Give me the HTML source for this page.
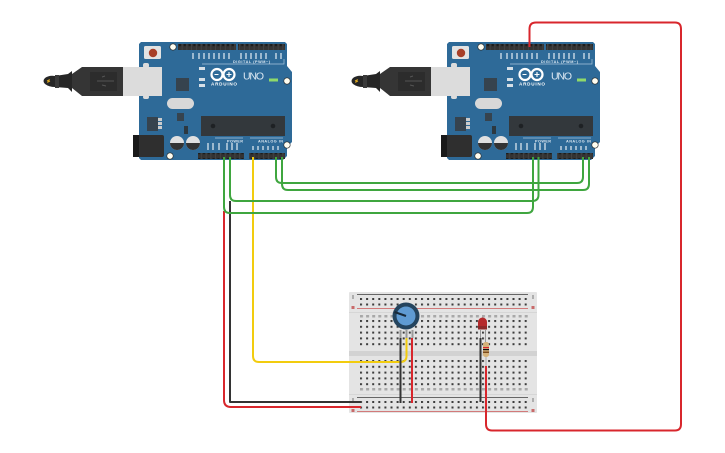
<!DOCTYPE html>
<html><head><meta charset="utf-8"><style>
html,body{margin:0;padding:0;background:#fff}
svg{display:block}
text{font-family:"Liberation Sans",sans-serif}
</style></head><body>
<svg width="725" height="453" viewBox="0 0 725 453" xmlns="http://www.w3.org/2000/svg">
<defs>
<pattern id="hdr" x="0" y="0" width="4.8" height="6" patternUnits="userSpaceOnUse"><rect width="4.8" height="6" fill="#333"/><rect x="1.3" y="2" width="2.2" height="2.2" fill="#1c1c1c"/><rect x="4.2" width=".6" height="6" fill="#4a4a4a"/></pattern>
<pattern id="railA" x="360" y="298" width="6.1" height="5.5" patternUnits="userSpaceOnUse"><rect x="0" y="0" width="2" height="2" fill="#3c3c3c"/></pattern>
<pattern id="railB" x="360" y="401" width="6.1" height="5.5" patternUnits="userSpaceOnUse"><rect x="0" y="0" width="2" height="2" fill="#3c3c3c"/></pattern>
<pattern id="mainA" x="360" y="320" width="6.1" height="5.8" patternUnits="userSpaceOnUse"><rect x="0" y="0" width="2" height="2" fill="#3c3c3c"/></pattern>
<pattern id="mainB" x="360" y="360" width="6.1" height="5.8" patternUnits="userSpaceOnUse"><rect x="0" y="0" width="2" height="2" fill="#3c3c3c"/></pattern>
<pattern id="labA" x="360" y="315" width="6.1" height="6" patternUnits="userSpaceOnUse"><rect x="0" y="0" width="3" height="2.500" fill="#a8a8a8"/></pattern>
<pattern id="labB" x="360" y="388" width="6.1" height="6" patternUnits="userSpaceOnUse"><rect x="0" y="0" width="3" height="2.500" fill="#a8a8a8"/></pattern>
<g id="board">
<!-- cable -->
<path d="M45 78 Q49 75 55 76 L68 74 L72 71 L72 92 L68 88 L55 87 Q49 87 45 84 Q42 81 45 78Z" fill="#262626"/>
<rect x="55" y="75" width="4" height="13" fill="#3a3a3a"/>
<path d="M72 74 L82 67 L123 67 L123 96 L82 96 L72 88Z" fill="#353535"/>
<rect x="90" y="72" width="27" height="19" fill="#2c2c2c"/>
<path d="M97 81h17M102 77l3-1M102 85l4 1" stroke="#555" fill="none"/>
<path d="M47 81l2-1-1 2 2-1" stroke="#d9a520" fill="none" stroke-width="1"/>
<!-- pcb -->
<path d="M141 42 L285 42 L287 44 L287 66 L292 72 L292 142 L287 147 L287 156 L283 160 L141 160 L139 158 L139 44Z" fill="#2e6a98"/>
<rect x="123" y="67" width="39" height="29" fill="#dcdcdc"/>
<rect x="143" y="63" width="6" height="5" rx="2" fill="#dcdcdc"/><rect x="143" y="95" width="6" height="4" rx="2" fill="#dcdcdc"/>
<rect x="144" y="46" width="17" height="13" rx="1.5" fill="#e3e3e3"/>
<circle cx="153" cy="53" r="4.2" fill="#a83f28"/>
<rect x="178" y="44" width="58" height="6" fill="url(#hdr)"/>
<rect x="238" y="44" width="47" height="6" fill="url(#hdr)"/>
<rect x="198" y="153" width="46" height="6" fill="url(#hdr)"/>
<rect x="249" y="153" width="36" height="6" fill="url(#hdr)"/>
<circle cx="173" cy="47" r="3.2" fill="#fffdf0" stroke="#222" stroke-width=".6"/>
<circle cx="287" cy="81" r="3.2" fill="#fffdf0" stroke="#222" stroke-width=".6"/>
<circle cx="287" cy="145" r="3.2" fill="#fffdf0" stroke="#222" stroke-width=".6"/>
<circle cx="170" cy="156" r="3.2" fill="#fffdf0" stroke="#222" stroke-width=".6"/>
<rect x="176" y="78" width="13" height="13" fill="#36434e"/>
<rect x="167" y="98" width="27" height="11" rx="5.500" fill="#d8d8d8"/>
<rect x="177" y="113" width="7" height="8" fill="#36434e"/>
<rect x="147" y="117" width="11" height="14" fill="#36434e"/>
<rect x="158" y="118" width="4" height="3" fill="#ccc"/><rect x="158" y="122" width="4" height="3" fill="#ccc"/><rect x="158" y="126" width="4" height="3" fill="#ccc"/>
<rect x="184" y="126" width="4" height="8" fill="#2c3840"/>
<rect x="201" y="116" width="84" height="20" fill="#33383c"/>
<circle cx="213" cy="126" r="2.3" fill="#1e2124"/><circle cx="273" cy="126" r="2.3" fill="#1e2124"/>
<circle cx="177" cy="143" r="7" fill="#e0e0e0"/><path d="M170 143 A7 7 0 0 0 184 143Z" fill="#333"/>
<circle cx="193" cy="143" r="7" fill="#e0e0e0"/><path d="M186 143 A7 7 0 0 0 200 143Z" fill="#333"/>
<rect x="133" y="135" width="31" height="22" rx="2" fill="#2f2f2f"/><rect x="133" y="135" width="6" height="22" fill="#1a1a1a"/>
<g fill="#e6eef4" opacity=".6"><rect x="192" y="53" width="2" height="6"/><rect x="198" y="53" width="2" height="6"/><rect x="203" y="53" width="2" height="6"/><rect x="208" y="53" width="2" height="6"/><rect x="213" y="53" width="2" height="6"/><rect x="218" y="53" width="2" height="6"/><rect x="223" y="53" width="2" height="6"/><rect x="228" y="53" width="2" height="6"/><rect x="240" y="53" width="2" height="6"/><rect x="245" y="53" width="2" height="6"/><rect x="250" y="53" width="2" height="6"/><rect x="255" y="53" width="2" height="6"/><rect x="260" y="53" width="2" height="6"/><rect x="265" y="53" width="2" height="6"/><rect x="275" y="53" width="2" height="6"/><rect x="280" y="53" width="2" height="6"/>
<rect x="207" y="143" width="2" height="7"/><rect x="212" y="143" width="2" height="7"/><rect x="218" y="143" width="2" height="7"/><rect x="226" y="143" width="2" height="7"/><rect x="231" y="143" width="2" height="7"/><rect x="236" y="143" width="2" height="7"/>
<rect x="252" y="146" width="2" height="4"/><rect x="257" y="146" width="2" height="4"/><rect x="262" y="146" width="2" height="4"/><rect x="267" y="146" width="2" height="4"/><rect x="272" y="146" width="2" height="4"/><rect x="277" y="146" width="2" height="4"/></g>
<g fill="#d5dfe7"><rect x="199" y="67" width="6" height="3"/><rect x="199" y="78" width="6" height="3"/><rect x="199" y="84" width="6" height="3"/></g>
<path d="M202 64H284V59M215 138H243M250 138H283" stroke="#a9c6dc" stroke-width=".7" fill="none"/>
<g fill="none" stroke="#fff" stroke-width="2.2"><circle cx="217" cy="74.500" r="5.500"/><circle cx="229" cy="74.500" r="5.500"/></g>
<path d="M214.500 74.500h4M226.500 74.500h5M229 72v5" stroke="#fff" stroke-width="1.100"/>
<text x="211" y="85.500" font-size="4.600" font-weight="700" fill="#fff" textLength="26">ARDUINO</text>
<text x="243" y="79.500" font-size="10.500" fill="#dce8f2" textLength="21">UNO</text>
<text x="233" y="63" font-size="3.800" font-weight="700" fill="#dce8f2" textLength="37">DIGITAL (PWM~)</text>
<text x="227" y="142.500" font-size="3.800" font-weight="700" fill="#dce8f2" textLength="16">POWER</text>
<text x="258" y="142.500" font-size="3.800" font-weight="700" fill="#dce8f2" textLength="25">ANALOG IN</text>
<rect x="269" y="78.500" width="9" height="3" fill="#8fd96a"/>
</g>
</defs>
<use href="#board"/>
<use href="#board" x="308"/>
<!-- breadboard -->
<rect x="349" y="292" width="188" height="121" rx="1" fill="#e4e4e4"/>
<rect x="349" y="312" width="188" height="1" fill="#d6d6d6"/><rect x="349" y="394" width="188" height="1" fill="#d6d6d6"/>
<rect x="349" y="351" width="188" height="5" fill="#d2d2d2"/>
<path d="M357 294.500H528" stroke="#666" stroke-width="1"/>
<path d="M357 308.500H528" stroke="#d27a7a" stroke-width="1"/>
<path d="M357 397.500H528" stroke="#666" stroke-width="1"/>
<path d="M357 411.500H528" stroke="#d27a7a" stroke-width="1"/>
<path d="M353 295v4M533 295v4M353 398v4M533 398v4" stroke="#777" stroke-width="1"/>
<g fill="#c96a6a"><rect x="351.500" y="306" width="3" height="3"/><rect x="531.500" y="306" width="3" height="3"/><rect x="351.500" y="409" width="3" height="3"/><rect x="531.500" y="409" width="3" height="3"/></g>
<rect x="360" y="298" width="168" height="8" fill="url(#railA)"/>
<rect x="360" y="401" width="168" height="8" fill="url(#railB)"/>
<rect x="360" y="320" width="168" height="26" fill="url(#mainA)"/>
<rect x="360" y="360" width="168" height="26" fill="url(#mainB)"/>
<rect x="360" y="315" width="168" height="3" fill="url(#labA)"/>
<rect x="360" y="388" width="168" height="3" fill="url(#labB)"/>
<!-- wires -->
<g fill="none" stroke-width="2" stroke-linejoin="round">
<path d="M230 201V402H361" stroke="#333"/>
<path d="M224 211V400Q224 407 231 407H361" stroke="#d8262c"/>
<path d="M253 157V356Q253 362 259 362H400Q406.500 362 406.500 356V338" stroke="#f2cc0e"/>
<path d="M400.500 338V403" stroke="#333"/>
<path d="M412 338V403" stroke="#d8262c"/>
<path d="M480.500 338V402" stroke="#333"/>
<path d="M529.500 47V29Q529.500 22.500 536 22.500H675Q681 22.500 681 29V424Q681 430.500 675 430.500H492Q486 430.500 486 424V366" stroke="#d8262c"/>
<g stroke="#3fa63f">
<path d="M276 157V177Q276 183 282 183H577Q583 183 583 177V157"/>
<path d="M282 157V184Q282 190 288 190H583Q589 190 589 184V157"/>
<path d="M230 157V195Q230 201 236 201H532Q538.500 201 538.500 195V157"/>
<path d="M224 157V207Q224 213 230 213H527Q533 213 533 207V157"/>
</g>
</g>
<!-- pot -->
<circle cx="406" cy="316" r="13.500" fill="#24445e"/>
<circle cx="406" cy="316" r="9.500" fill="#5f9bd3"/>
<path d="M406 316L394.500 312" stroke="#182a3a" stroke-width="2"/>
<g fill="#9a9a9a"><rect x="399.500" y="330" width="2" height="8"/><rect x="405.500" y="330" width="2" height="8"/><rect x="411.500" y="330" width="2" height="8"/></g>
<!-- led -->
<path d="M478 322a4.500 4.500 0 0 1 9 0V329H478Z" fill="#b52a2c"/><rect x="478" y="326" width="9" height="3.500" fill="#8e2a2a"/>
<path d="M480.500 330V338M485.500 330V343" stroke="#999" stroke-width="1"/>
<!-- resistor -->
<path d="M486 357V366" stroke="#aaa" stroke-width="1"/>
<rect x="483" y="342" width="6" height="15" rx="2.500" fill="#d5b27a"/>
<rect x="483" y="347" width="6" height="1.200" fill="#d8262c"/><rect x="483" y="349" width="6" height="1.200" fill="#111"/><rect x="483" y="351.500" width="6" height="1.500" fill="#7a4a1e"/>
</svg>
</body></html>
